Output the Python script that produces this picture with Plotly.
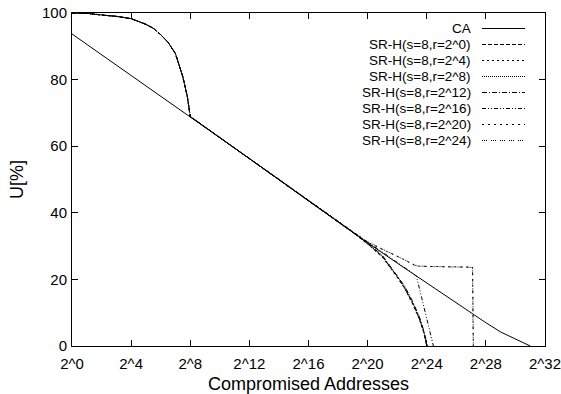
import math
import plotly.graph_objects as go

# ---------------- data (x given as exponent of 2) ----------------
x_tick_exps = [0, 4, 8, 12, 16, 20, 24, 28, 32]
x_tick_labels = ["2^0", "2^4", "2^8", "2^12", "2^16", "2^20", "2^24", "2^28", "2^32"]
y_tick_vals = [0, 20, 40, 60, 80, 100]

ca_exp = [0, 2, 4, 6, 8, 10, 12, 14, 16, 18, 20, 22, 24, 26, 27, 28, 29, 30, 30.5, 31]
ca_u = [93.7, 87.5, 81.3, 75.1, 68.9, 62.6, 56.3, 50.0, 43.6, 37.3, 31.0, 24.9, 18.9, 13.0, 9.9, 7.0, 4.2, 2.0, 1.0, 0.0]

# shared part of all SR-H curves (s=8)
sr_head_exp = [0, 1, 2, 3, 4, 5, 5.5, 6, 6.5, 7, 7.5, 7.8, 8, 10, 12, 14, 16, 18]
sr_head_u = [100, 99.9, 99.4, 99.0, 98.3, 96.6, 95.4, 93.5, 91.2, 87.8, 80.8, 75.0, 68.9, 62.6, 56.3, 50.0, 43.6, 37.3]

r0_tail_exp = [19, 20, 21, 22, 22.5, 23, 23.5, 23.8, 24]
r0_tail_u = [34.1, 30.7, 26.8, 20.8, 17.4, 13.2, 8.2, 4.1, 0.0]
r4_tail_exp = [19, 20, 21, 22, 22.5, 23, 23.5, 23.8, 24]
r4_tail_u = [34.1, 30.6, 26.6, 20.6, 17.3, 13.0, 8.0, 4.0, 0.0]
r8_tail_exp = [19, 20, 21, 22, 22.5, 23, 23.5, 23.8, 24]
r8_tail_u = [34.2, 30.8, 27.0, 21.0, 17.7, 13.5, 8.5, 4.4, 0.0]
r12_tail_exp = [19, 20, 21, 22, 22.5, 23, 23.5, 23.8, 24.05]
r12_tail_u = [34.2, 30.9, 27.2, 21.3, 18.0, 13.8, 8.8, 4.6, 0.0]
r16_tail_exp = [19, 20, 21, 22, 23, 23.3, 23.9, 24.45]
r16_tail_u = [34.2, 31.2, 28.2, 25.2, 22.0, 21.0, 10.0, 0.0]
r20_tail_exp = [19, 20, 21, 22, 22.5, 23, 23.3, 24, 25, 26, 27, 27.1, 27.15]
r20_tail_u = [34.2, 31.2, 29.0, 27.0, 25.9, 24.6, 24.0, 23.9, 23.8, 23.8, 23.7, 23.7, 0.0]
r24_tail_exp = [19, 20, 21, 22, 22.5, 23, 23.3, 24, 25, 26, 27, 27.1, 27.15]
r24_tail_u = [34.2, 31.3, 29.1, 27.1, 26.0, 24.7, 24.1, 23.9, 23.8, 23.8, 23.7, 23.6, 0.0]

series_names = ["CA", "SR-H(s=8,r=2^0)", "SR-H(s=8,r=2^4)", "SR-H(s=8,r=2^8)",
                "SR-H(s=8,r=2^12)", "SR-H(s=8,r=2^16)", "SR-H(s=8,r=2^20)", "SR-H(s=8,r=2^24)"]
series_exp = [ca_exp,
              sr_head_exp + r0_tail_exp, sr_head_exp + r4_tail_exp, sr_head_exp + r8_tail_exp,
              sr_head_exp + r12_tail_exp, sr_head_exp + r16_tail_exp, sr_head_exp + r20_tail_exp,
              sr_head_exp + r24_tail_exp]
series_u = [ca_u,
            sr_head_u + r0_tail_u, sr_head_u + r4_tail_u, sr_head_u + r8_tail_u,
            sr_head_u + r12_tail_u, sr_head_u + r16_tail_u, sr_head_u + r20_tail_u,
            sr_head_u + r24_tail_u]

# ---------------- styles ----------------
dashes = ["solid", "4px,2px", "2px,3px", "1px,1px", "5px,2px,1px,2px",
          "4px,2px,1px,2px,1px,2px", "2px,4px", "1px,1px,1px,1px,1px,4px"]
FONT = "Liberation Sans, Arial, Helvetica, sans-serif"

W, H = 561, 394
L, R, T, B = 72, 16, 13, 48
PW, PH = W - L - R, H - T - B

fig = go.Figure()
for name, ex, u, d in zip(series_names, series_exp, series_u, dashes):
    fig.add_trace(go.Scatter(
        x=[2.0 ** e for e in ex], y=u, mode="lines", name=name,
        line=dict(color="black", width=1, dash=d), showlegend=False))

# custom gnuplot-style legend (text right-aligned, sample on the right)
def px_to_paper_x(px):
    return (px - L) / PW

def px_to_paper_y(py):
    return (H - B - py) / PH

row0, row_gap = 28.5, 16.0
for i, (name, d) in enumerate(zip(series_names, dashes)):
    yc = row0 + i * row_gap
    fig.add_annotation(x=px_to_paper_x(472), y=px_to_paper_y(yc), xref="paper", yref="paper",
                       text=name, showarrow=False, xanchor="right", yanchor="middle",
                       borderpad=0, font=dict(family=FONT, size=13.5, color="black"))
    fig.add_shape(type="line", xref="paper", yref="paper",
                  x0=px_to_paper_x(482), x1=px_to_paper_x(525),
                  y0=px_to_paper_y(yc), y1=px_to_paper_y(yc),
                  line=dict(color="black", width=1, dash=d))

fig.update_layout(
    width=W, height=H,
    margin=dict(l=L, r=R, t=T, b=B, pad=0),
    paper_bgcolor="white", plot_bgcolor="white",
    font=dict(family=FONT, size=15, color="black"),
    xaxis=dict(type="log", range=[0, math.log10(2.0 ** 32) + 1e-9],
               tickvals=[2.0 ** e for e in x_tick_exps],
               ticktext=x_tick_labels, ticks="inside", ticklen=6, tickcolor="black",
               ticklabelstandoff=4, ticklabeloverflow="allow",
               showline=True, linecolor="black", linewidth=1, mirror="ticks",
               showgrid=False, zeroline=False,
               title=dict(text="Compromised Addresses", standoff=9), automargin=False),
    yaxis=dict(range=[0, 100], tickvals=y_tick_vals, ticks="inside", ticklen=6, tickcolor="black",
               ticklabelstandoff=1, ticklabeloverflow="allow",
               showline=True, linecolor="black", linewidth=1, mirror="ticks",
               showgrid=False, zeroline=False,
               title=dict(text="U[%]", standoff=13), automargin=False),
)

fig.write_html("out.html")
